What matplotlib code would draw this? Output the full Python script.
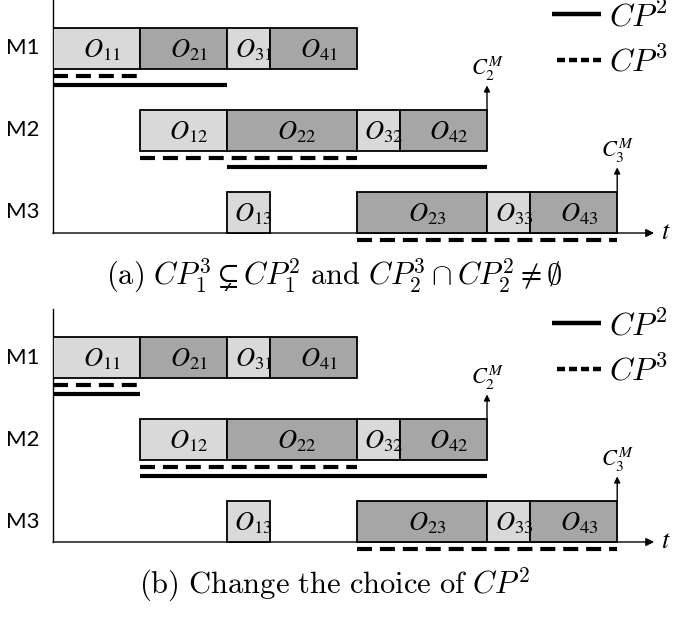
import matplotlib.pyplot as plt

# schedule: start time and duration of O_jm on each machine (job j = 1..4)
machines = ['M1', 'M2', 'M3']
starts = {'M1': [0, 2, 4, 5], 'M2': [2, 4, 7, 8], 'M3': [4, 7, 10, 11]}
durations = {'M1': [2, 2, 1, 2], 'M2': [2, 3, 1, 2], 'M3': [1, 3, 1, 2]}
jobs = [1, 2, 3, 4]

# critical paths (start, end) on each machine
cp2_a = {'M1': (0, 4), 'M2': (4, 10)}
cp2_b = {'M1': (0, 2), 'M2': (2, 10)}
cp3 = {'M1': (0, 2), 'M2': (2, 7), 'M3': (7, 13)}

# machine completion times
cmax = {'M2': 10, 'M3': 13}

captions = [r'$\mathrm{(a)}\ CP_1^3 \subsetneq CP_1^2\ \mathrm{and}\ CP_2^3 \cap CP_2^2 \neq \emptyset$',
            r'$\mathrm{(b)\ Change\ the\ choice\ of}\ CP^2$']

LIGHT = '#d9d9d9'
DARK = '#a6a6a6'
row_base = {'M1': 4, 'M2': 2, 'M3': 0}
W, H = 676, 617


def draw_panel(ax, cp2, caption):
    ax.set_xlim(0, 623 / 43.4)
    ax.set_ylim(-17 / 41, 233 / 41)
    for side in ['top', 'right', 'bottom']:
        ax.spines[side].set_visible(False)
    ax.spines['left'].set_linewidth(1.0)
    ax.spines['left'].set_bounds(0, 233 / 41)
    ax.set_xticks([])
    ax.set_yticks([])

    # time axis with arrow
    ax.annotate('', xy=(13.85, 0), xytext=(0, 0),
                arrowprops=dict(arrowstyle='-|>', lw=1.0, color='black',
                                mutation_scale=12, shrinkA=0, shrinkB=0))
    ax.text(14.0, 0.02, '$t$', fontsize=19, math_fontfamily='stix',
            va='center', ha='left')

    for m in machines:
        y0 = row_base[m]
        cols = [LIGHT if j % 2 == 1 else DARK for j in jobs]
        ax.barh(y0, durations[m], left=starts[m], height=1, align='edge',
                color=cols, edgecolor='black', linewidth=1.3, zorder=3)
        for j, s, d in zip(jobs, starts[m], durations[m]):
            ax.text(s + d / 2 + 0.12, y0 + 0.45, '$O_{%d%s}$' % (j, m[1]),
                    fontsize=19, math_fontfamily='stix',
                    ha='center', va='center', zorder=4)
        ax.text(-0.3, y0 + 0.5, m, fontsize=16, family='Lato',
                ha='right', va='center')

    # critical paths
    for m, (s, e) in cp3.items():
        ax.plot([s, e], [row_base[m] - 0.17, row_base[m] - 0.17], color='black',
                lw=3, dashes=(3.6, 1.9), solid_capstyle='butt', zorder=2)
    for m, (s, e) in cp2.items():
        ax.plot([s, e], [row_base[m] - 0.39, row_base[m] - 0.39], color='black',
                lw=3, solid_capstyle='butt', zorder=2)

    # completion time arrows
    for m, t in cmax.items():
        y0 = row_base[m] + 1
        ax.annotate('', xy=(t, y0 + 0.6), xytext=(t, y0),
                    arrowprops=dict(arrowstyle='-|>', lw=1.0, color='black',
                                    mutation_scale=9, shrinkA=0, shrinkB=0))
        ax.text(t, y0 + 1.0, '$C_{%s}^{M}$' % m[1], fontsize=16,
                math_fontfamily='stix', ha='center', va='center')

    # legend
    ax.plot([11.5, 12.62], [5.35, 5.35], color='black', lw=3.2,
            solid_capstyle='butt', clip_on=False)
    ax.plot([11.62, 12.62], [4.22, 4.22], color='black', lw=3.2,
            dashes=(1.8, 0.9), clip_on=False)
    ax.text(12.8, 5.25, '$CP^2$', fontsize=23, math_fontfamily='cm',
            va='center', ha='left', clip_on=False)
    ax.text(12.8, 4.16, '$CP^3$', fontsize=23, math_fontfamily='cm',
            va='center', ha='left', clip_on=False)

    ax.text(281 / 43.4, -43 / 41, caption, fontsize=22, math_fontfamily='cm',
            ha='center', va='center', clip_on=False)


fig = plt.figure(figsize=(W / 100, H / 100), dpi=100)
ax_a = fig.add_axes([53 / W, 1 - 250 / H, 623 / W, 250 / H])
ax_b = fig.add_axes([53 / W, 1 - 559 / H, 623 / W, 250 / H])
for a in (ax_a, ax_b):
    a.patch.set_visible(False)
draw_panel(ax_a, cp2_a, captions[0])
draw_panel(ax_b, cp2_b, captions[1])

fig.savefig('out.png', dpi=100)
